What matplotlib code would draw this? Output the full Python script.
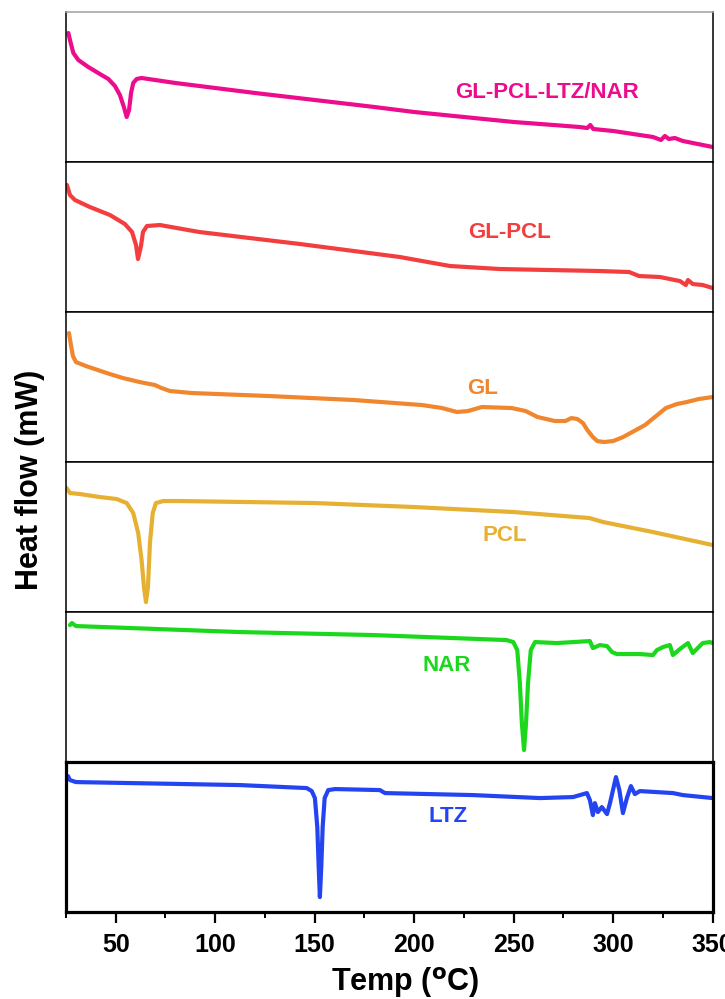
import matplotlib
matplotlib.use('Agg')
import matplotlib.pyplot as plt
from matplotlib.ticker import MultipleLocator

plt.rcParams['font.family'] = ['Liberation Sans', 'DejaVu Sans']
plt.rcParams['font.weight'] = 'bold'
plt.rcParams['mathtext.default'] = 'bf'

# temperature (C) / heat flow (arb. units, panel scale 0-150)
t_mix = [26.2, 27, 28.7, 31.2, 36.2, 41.2, 46.3, 49.6, 52.1, 54.1, 55.5, 56.7, 57.7, 58.8, 60.5, 63,
         80, 100, 120, 150, 180, 200, 230, 250, 270, 283, 287, 288.5, 290, 300, 310, 320, 324, 326,
         328, 331, 335, 350]
v_mix = [129, 122, 109, 102, 95, 89, 83, 76, 67, 55, 45, 52, 69, 79, 83, 84,
         79, 74, 69, 62, 55, 50, 44, 40, 37, 35, 34, 37, 33, 31, 28, 25, 22, 26,
         23, 24, 21, 15]

t_glpcl = [25.5, 27, 29.5, 37, 47.1, 54.6, 58.2, 60.2, 61.2, 62.7, 63.7, 65.7, 72.2, 92, 142.6, 192.8,
           218, 243, 293, 308, 313, 323.5, 333.5, 336.5, 337.6, 340, 345, 350]
v_glpcl = [127, 117, 112, 105, 97, 88, 80, 67, 53, 66, 80, 86, 87, 80, 68, 55,
           46, 43, 41, 40, 36, 35, 31, 27, 32, 28, 27, 24]

t_gl = [26.5, 27.5, 28.5, 30, 35, 41, 47, 53.6, 62, 69.7, 73, 77.3, 88.3, 127, 169.7, 203.9, 214,
        221.5, 227, 234, 249, 256, 262, 270.7, 276, 279, 282, 284.8, 287, 289.8, 292, 295.4, 300,
        305, 316, 326.5, 332, 337, 343, 350]
v_gl = [129, 117, 106, 100, 96, 92, 88, 84, 80, 77, 74, 71, 69, 66, 62, 57, 54,
        50, 51, 55, 54, 51, 45, 41, 41, 44, 43, 39, 32, 25, 21, 20, 21,
        25, 37, 54, 58, 60, 63, 65]

t_pcl = [25.3, 27, 32, 42, 50.5, 55.5, 58.8, 61.3, 63, 64.2, 65.2, 66.2, 67.2, 68.6, 70.2, 73.9, 82.3,
         150, 200, 250, 288, 295, 320, 350]
v_pcl = [124, 119, 118, 115, 113, 109, 99, 79, 52, 25, 10, 25, 69, 99, 109, 111, 111,
         109, 105, 100, 94, 90, 80, 67]

t_nar = [27, 28, 30, 112.4, 179.3, 246.4, 249.8, 251.8, 253.1, 254.1, 255.2, 256.2, 257.2, 258.6,
         260.7, 271.7, 288.3, 289.8, 293.3, 296.9, 299.4, 301.9, 313.4, 320, 322, 325, 328.5, 330,
         333.5, 337.6, 340, 345, 348.6, 350]
v_nar = [137, 139, 136, 130, 127, 122, 120, 112, 79, 39, 12, 39, 79, 112,
         120, 119, 121, 114, 117, 116, 110, 108, 108, 107, 112, 115, 117, 107,
         113, 119, 109, 119, 120, 119]

t_ltz = [26, 27, 30, 112.4, 146, 148.5, 150.1, 151.3, 152, 152.6, 153.3, 154, 155, 156.8, 160.2,
         182.8, 185.3, 229.5, 263.2, 279.8, 286.8, 288.3, 289.8, 290.8, 292.3, 294.3, 296.9, 298.4,
         301.4, 303.1, 304.9, 306.9, 308.9, 310.9, 313.4, 330, 335, 350]
v_ltz = [136, 132, 130, 127, 124, 121, 114, 85, 45, 15, 45, 85, 114, 122, 123,
         122, 119, 117, 114, 115, 119, 112, 97, 109, 100, 105, 98, 109,
         135, 122, 99, 114, 126, 118, 121, 119, 117, 114]

labels = ['GL-PCL-LTZ/NAR', 'GL-PCL', 'GL', 'PCL', 'NAR', 'LTZ']
colors = ['#ec0c8c', '#f23e3e', '#f0872e', '#e6b032', '#1cd81c', '#2444f2']
label_pos = [(266.7, 69), (248, 80), (234.5, 74), (245.6, 77), (216.5, 97), (217, 96)]
series = [(t_mix, v_mix), (t_glpcl, v_glpcl), (t_gl, v_gl), (t_pcl, v_pcl), (t_nar, v_nar), (t_ltz, v_ltz)]

fig, axes = plt.subplots(6, 1, sharex=True, figsize=(7.25, 9.99), dpi=100)
fig.subplots_adjust(left=0.091, right=0.983, top=0.988, bottom=0.087, hspace=0)

for i, ax in enumerate(axes):
    t, v = series[i]
    ax.plot(t, v, color=colors[i], lw=3, solid_capstyle='round', solid_joinstyle='round')
    ax.text(label_pos[i][0], label_pos[i][1], labels[i], color=colors[i], fontsize=16,
            fontweight='bold', ha='center', va='center')
    ax.set_ylim(0, 150)
    ax.set_yticks([])
    for s in ax.spines.values():
        s.set_linewidth(1.1)
    ax.tick_params(axis='x', which='both', bottom=False, labelbottom=False)

axes[0].spines['top'].set_color('#a0a0a0')
for s in axes[-1].spines.values():
    s.set_linewidth(2.3)

ax = axes[-1]
ax.set_xlim(25, 350)
ax.xaxis.set_major_locator(MultipleLocator(50))
ax.xaxis.set_minor_locator(MultipleLocator(25))
ax.tick_params(axis='x', which='major', bottom=True, labelbottom=True, direction='out',
               length=8, width=1.6, pad=7, labelsize=18)
ax.tick_params(axis='x', which='minor', bottom=True, direction='out', length=4, width=1.4)
ax.set_xlabel(r'Temp ($^{o}$C)', fontsize=22, fontweight='bold', labelpad=6, x=0.524)

fig.text(0.042, 0.52, 'Heat flow (mW)', rotation=90, fontsize=22, fontweight='bold',
         ha='center', va='center')

fig.savefig('out.png', dpi=100)
